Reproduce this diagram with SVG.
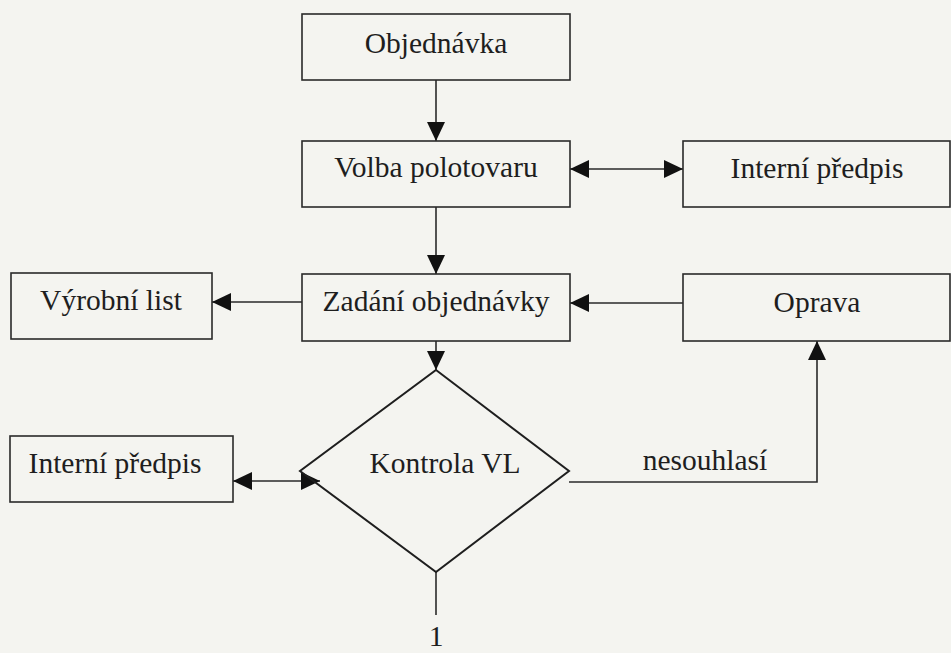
<svg xmlns="http://www.w3.org/2000/svg" width="951" height="653" viewBox="0 0 951 653">
<defs>
<style>
.box{fill:none;stroke:#2a2a2a;stroke-width:1.6}
.dia{fill:none;stroke:#1e1e1e;stroke-width:2}
.ln{fill:none;stroke:#2a2a2a;stroke-width:1.6}
.t{font-family:'Liberation Serif','Times New Roman',Tinos,'DejaVu Serif',serif;font-size:29.5px;fill:#1e1e1e;text-anchor:middle}
</style>
<marker id="ah" markerUnits="userSpaceOnUse" markerWidth="20" markerHeight="20" viewBox="0 0 20 18" refX="19" refY="9" orient="auto-start-reverse">
<path d="M0,0 L19,9 L0,18 Z" fill="#111"/>
</marker>
</defs>
<rect width="951" height="653" fill="#f4f4f0"/>
<g id="connectors">
<line class="ln" x1="436" y1="80" x2="436" y2="141" marker-end="url(#ah)"/>
<line class="ln" x1="570" y1="169" x2="683" y2="169" marker-start="url(#ah)" marker-end="url(#ah)"/>
<line class="ln" x1="436" y1="207" x2="436" y2="274" marker-end="url(#ah)"/>
<line class="ln" x1="683" y1="303" x2="570" y2="303" marker-end="url(#ah)"/>
<line class="ln" x1="302" y1="302" x2="212" y2="302" marker-end="url(#ah)"/>
<line class="ln" x1="436" y1="341" x2="436" y2="370" marker-end="url(#ah)"/>
<line class="ln" x1="233" y1="481" x2="320" y2="481" marker-start="url(#ah)" marker-end="url(#ah)"/>
<path class="ln" d="M569,482 H817 V341" marker-end="url(#ah)"/>
<line class="ln" x1="436" y1="572" x2="436" y2="615"/>
</g>
<g id="objednavka">
<rect class="box" x="302" y="14" width="268" height="66"/>
<text class="t" x="436" y="53" font-family="Liberation Serif, serif">Objednávka</text>
</g>
<g id="volba">
<rect class="box" x="302" y="141" width="268" height="66"/>
<text class="t" x="436" y="177" font-family="Liberation Serif, serif">Volba polotovaru</text>
</g>
<g id="interni1">
<rect class="box" x="683" y="141" width="267" height="66"/>
<text class="t" x="817" y="178" font-family="Liberation Serif, serif">Interní předpis</text>
</g>
<g id="zadani">
<rect class="box" x="302" y="274" width="268" height="67"/>
<text class="t" x="436" y="311" font-family="Liberation Serif, serif">Zadání objednávky</text>
</g>
<g id="vyrobni">
<rect class="box" x="11" y="273" width="201" height="66"/>
<text class="t" x="111" y="310" font-family="Liberation Serif, serif">Výrobní list</text>
</g>
<g id="oprava">
<rect class="box" x="683" y="274" width="267" height="67"/>
<text class="t" x="817" y="312" font-family="Liberation Serif, serif">Oprava</text>
</g>
<g id="kontrola">
<path class="dia" d="M436,370 L569,471 L436,572 L300,471 Z"/>
<text class="t" x="445" y="473" font-family="Liberation Serif, serif">Kontrola VL</text>
</g>
<g id="interni2">
<rect class="box" x="10" y="436" width="223" height="66"/>
<text class="t" x="115" y="473" font-family="Liberation Serif, serif">Interní předpis</text>
</g>
<g id="label-nesouhlasi">
<text class="t" x="705" y="470" font-family="Liberation Serif, serif">nesouhlasí</text>
</g>
<g id="label-1">
<text class="t" x="436" y="646" font-family="Liberation Serif, serif">1</text>
</g>
</svg>
